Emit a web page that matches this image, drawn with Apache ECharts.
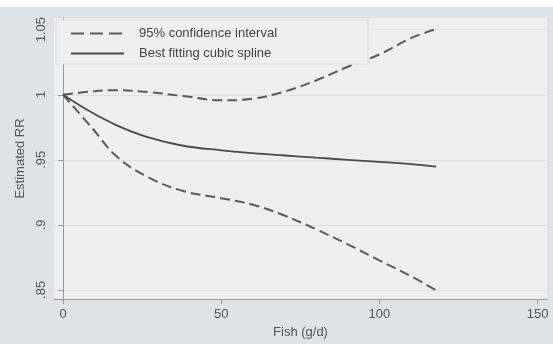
<!DOCTYPE html>
<html>
<head>
<meta charset="utf-8">
<script src="https://cdn.jsdelivr.net/npm/echarts@6/dist/echarts.min.js"></script>
<style>
  html, body { margin: 0; padding: 0; background: #ffffff; }
  #chart {
    width: 553px; height: 344px;
    background: linear-gradient(to bottom, #ffffff 0px, #ffffff 7px, #dde3e6 7px, #dde3e6 100%);
  }
</style>
</head>
<body>
<div id="chart"></div>
<script>
// Fish intake (g/d) at which the spline was evaluated
const fish = [0, 9, 17, 27, 38, 50, 60, 70, 80, 90, 100, 110, 118];
// Estimated relative risk, best fitting cubic spline
const bestFit = [1.0, 0.9865, 0.9765, 0.9672, 0.9608, 0.9573, 0.9551, 0.9533, 0.9516, 0.9500, 0.9484, 0.9466, 0.9448];
// 95% confidence bounds
const upperCI = [1.0, 1.0025, 1.0035, 1.002, 0.999, 0.9957, 0.997, 1.0025, 1.011, 1.0215, 1.031, 1.0435, 1.0505];
const lowerCI = [1.0, 0.975, 0.9525, 0.9365, 0.926, 0.9205, 0.9155, 0.9072, 0.8966, 0.885, 0.8727, 0.8605, 0.8495];

// Axis ticks
const xTicks = [0, 50, 100, 150];
const yTicks = [0.85, 0.9, 0.95, 1, 1.05];
const yTickLabels = ['.85', '.9', '.95', '1', '1.05'];

const pairs = ys => fish.map((x, i) => [x, ys[i]]);

const font = 'Liberation Sans, Arial, Helvetica, sans-serif';
const textColor = '#555';
const axisColor = '#9a9a9a';
const ciColor = '#5a5a5a';
const fitColor = '#4a4a4a';
const ciName = '95% confidence interval';
const fitName = 'Best fitting cubic spline';

const chart = echarts.init(document.getElementById('chart'), null, { renderer: 'canvas' });

chart.setOption({
  backgroundColor: 'transparent',
  animation: false,
  color: [ciColor, ciColor, fitColor],
  grid: {
    left: 54, right: 6, top: 18, bottom: 42,
    show: true, backgroundColor: '#efefef', borderWidth: 0
  },
  legend: {
    left: 56, top: 20,
    orient: 'vertical',
    padding: [7, 91, 4, 14],
    itemGap: 7,
    itemWidth: 53, itemHeight: 14,
    backgroundColor: '#efefef',
    borderColor: '#dedede', borderWidth: 1,
    itemStyle: { opacity: 0 },
    textStyle: { fontFamily: font, fontSize: 13, color: '#444', padding: [0, 0, 0, 10] },
    data: [
      { name: ciName, lineStyle: { type: [13, 6] } },
      { name: fitName }
    ]
  },
  xAxis: {
    type: 'value',
    min: -2.85, max: 153,
    name: 'Fish (g/d)',
    nameLocation: 'middle',
    nameGap: 27,
    nameTextStyle: { fontFamily: font, fontSize: 13, color: textColor },
    axisLine: { show: true, lineStyle: { color: axisColor, width: 1 } },
    axisTick: { show: true, length: 5, customValues: xTicks, lineStyle: { color: axisColor } },
    axisLabel: { customValues: xTicks, margin: 9, fontFamily: font, fontSize: 13, color: textColor },
    splitLine: { show: false }
  },
  yAxis: {
    type: 'value',
    min: 0.843, max: 1.059,
    name: 'Estimated RR',
    nameLocation: 'middle',
    nameRotate: 90,
    nameGap: 18,
    nameTextStyle: { fontFamily: font, fontSize: 13, color: textColor },
    axisLine: { show: true, lineStyle: { color: axisColor, width: 1 } },
    axisTick: { show: true, length: 5, customValues: yTicks, lineStyle: { color: axisColor } },
    axisLabel: {
      customValues: yTicks, rotate: 90, margin: 6,
      fontFamily: font, fontSize: 13, color: textColor,
      formatter: v => {
        const i = yTicks.findIndex(t => Math.abs(t - v) < 1e-9);
        return i >= 0 ? yTickLabels[i] : '';
      }
    },
    splitLine: { show: true, lineStyle: { color: '#e0e0e0', width: 1 } }
  },
  series: [
    {
      name: ciName, type: 'line', data: pairs(upperCI), smooth: 0.4,
      symbol: 'none',
      lineStyle: { color: ciColor, width: 2, type: [10, 5] }
    },
    {
      name: ciName, type: 'line', data: pairs(lowerCI), smooth: 0.4,
      symbol: 'none',
      lineStyle: { color: ciColor, width: 2, type: [10, 5] }
    },
    {
      name: fitName, type: 'line', data: pairs(bestFit), smooth: 0.4,
      symbol: 'none',
      lineStyle: { color: fitColor, width: 1.8, type: 'solid' }
    }
  ]
});
</script>
</body>
</html>
